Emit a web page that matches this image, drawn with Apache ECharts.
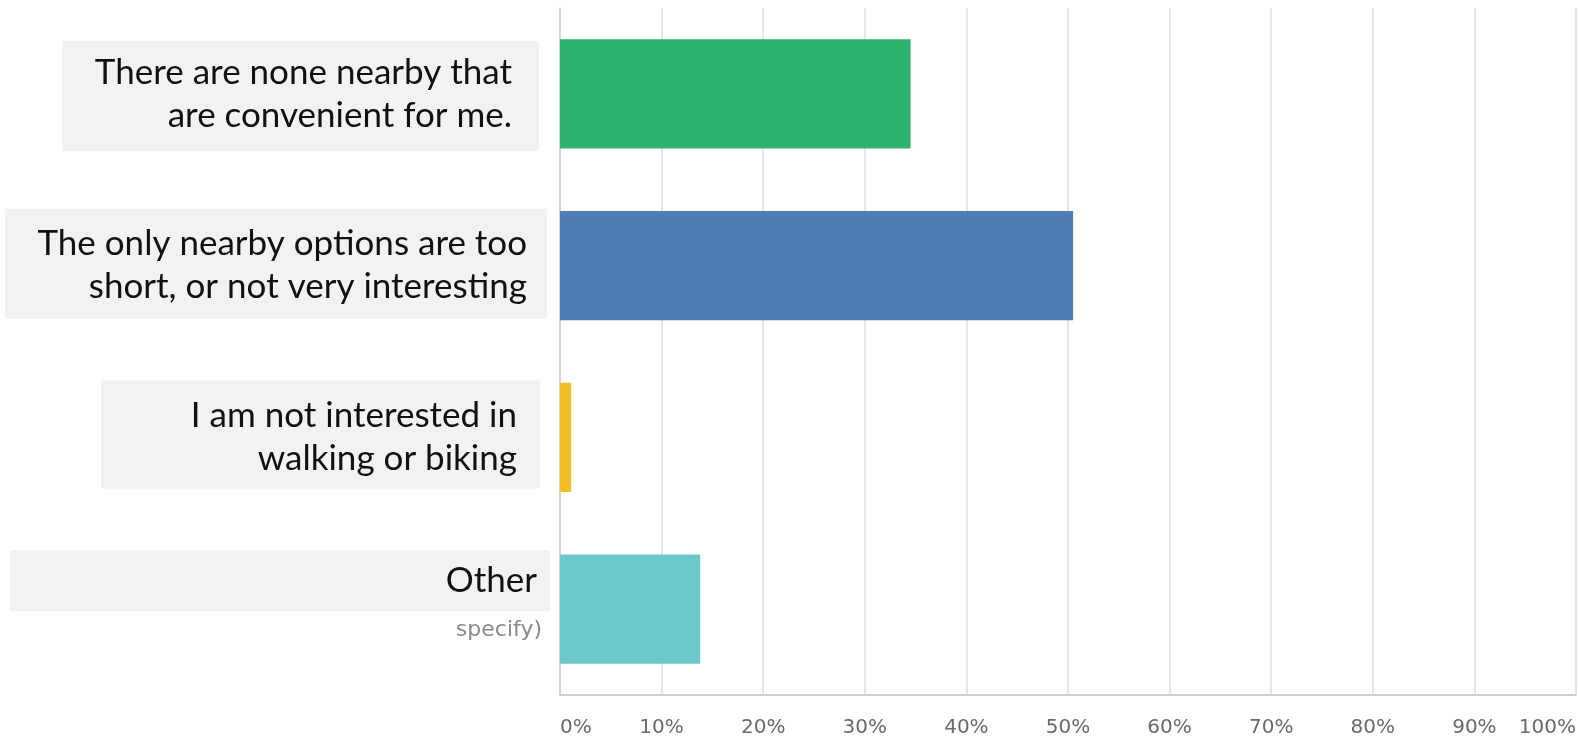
<!DOCTYPE html>
<html>
<head>
<meta charset="utf-8">
<script src="https://cdn.jsdelivr.net/npm/echarts@6/dist/echarts.min.js"></script>
<style>
html,body{margin:0;padding:0;background:#fff;}
#c{width:1579px;height:741px;}
</style>
</head>
<body>
<div id="c"></div>
<script>
const categories = [
  "There are none nearby that\nare convenient for me.",
  "The only nearby options are too\nshort, or not very interesting",
  "I am not interested in\nwalking or biking",
  "Other"
];
const values = [34.5, 50.5, 1.1, 13.8];
const barColors = ["#2DB36E", "#4F7DB4", "#F2BF22", "#6BC8CB"];
const ghostNote = "specify)";

// label box styling (offsets relative to band center)
const boxes = [
  {x0: 62, x1: 539, dy0: -53, dy1: 57, pr: 27},
  {x0: 5,  x1: 547, dy0: -57, dy1: 53, pr: 12},
  {x0: 101, x1: 540, dy0: -57, dy1: 51, pr: 22},
  {x0: 10, x1: 550, dy0: -59, dy1: 2, pr: 2}
];

const rich = {};
boxes.forEach((b, i) => {
  rich['r' + i] = {fontFamily: 'Lato', fontSize: 35, color: '#111', lineHeight: 43, padding: [0, b.pr, 0, 0]};
});
rich.ghost = {fontFamily: 'DejaVu Sans', fontSize: 22, color: '#8a8a8a', lineHeight: 56, padding: [0, -3, 0, 0]};

const chart = echarts.init(document.getElementById('c'), null, {renderer: 'canvas'});
const option = {
  backgroundColor: '#ffffff',
  animation: false,
  grid: {left: 560, right: 3, top: 8, bottom: 46, containLabel: false, outerBoundsMode: 'none'},
  xAxis: {
    type: 'value', min: 0, max: 100, interval: 10,
    axisLine: {show: true, lineStyle: {color: '#cfcfcf', width: 2}},
    axisTick: {show: false},
    splitLine: {show: true, lineStyle: {color: '#e6e6e6', width: 2}},
    axisLabel: {
      formatter: v => v + '%',
      color: '#6a6a6a', fontSize: 20, fontFamily: 'DejaVu Sans', margin: 23,
      alignMinLabel: 'left', alignMaxLabel: 'right'
    }
  },
  yAxis: {
    type: 'category', inverse: true, data: categories,
    axisLine: {show: true, lineStyle: {color: '#d6d6d6', width: 2}},
    axisTick: {show: false},
    splitLine: {show: false},
    axisLabel: {
      margin: 21, align: 'right',
      formatter: (v, i) => {
        const lines = v.split('\n').map(s => '{r' + i + '|' + s + '}');
        if (i === categories.length - 1) lines.push('{ghost|' + ghostNote + '}');
        return lines.join('\n');
      },
      rich: rich
    }
  },
  series: [{
    type: 'bar',
    data: values.map((v, i) => ({value: v, itemStyle: {color: barColors[i]}})),
    barWidth: '63.5%'
  }]
};
chart.setOption(option);

const rects = categories.map((c, i) => {
  const cy = chart.convertToPixel({yAxisIndex: 0}, i);
  const b = boxes[i];
  return {
    type: 'rect', z: -10,
    shape: {x: b.x0, y: cy + b.dy0, width: b.x1 - b.x0, height: b.dy1 - b.dy0},
    style: {fill: '#f2f2f2'}
  };
});
chart.setOption({graphic: rects});
</script>
</body>
</html>
